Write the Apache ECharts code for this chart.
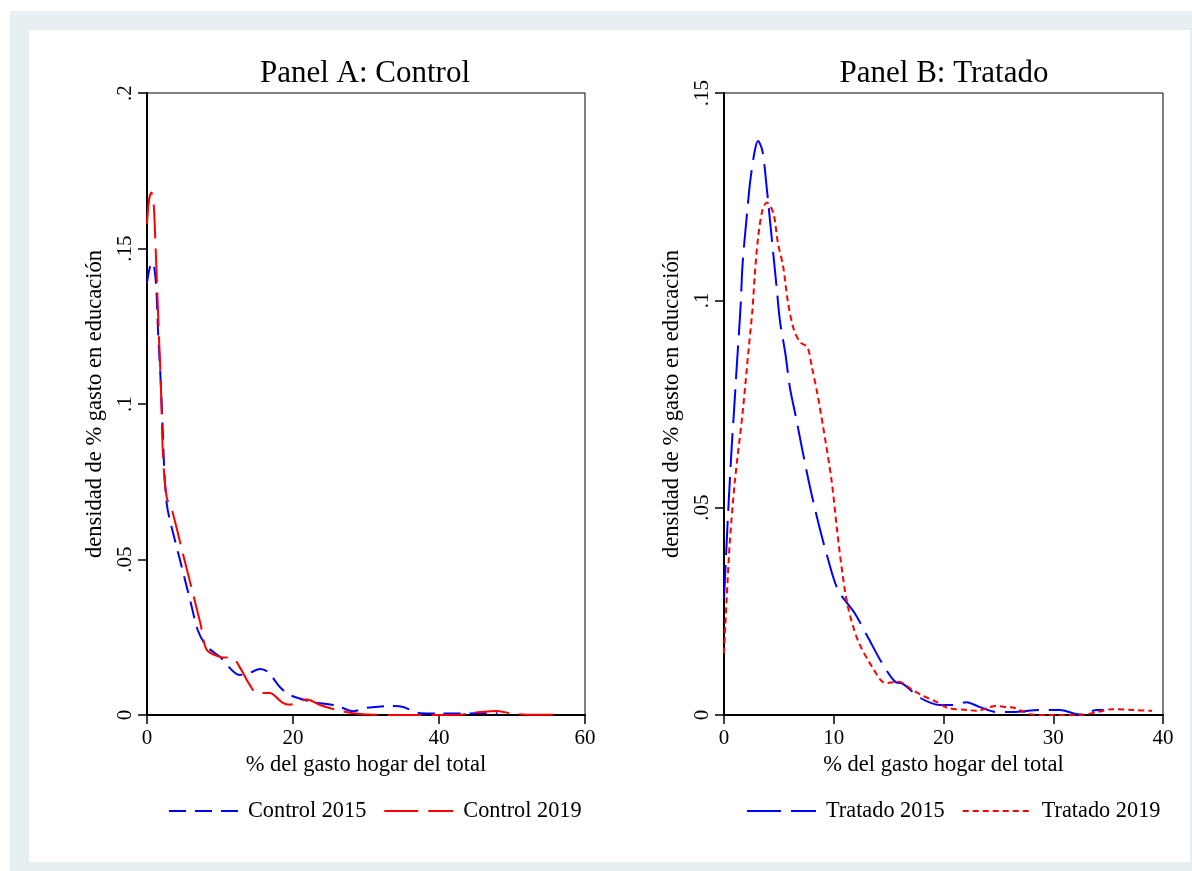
<!DOCTYPE html>
<html>
<head>
<meta charset="utf-8">
<script src="https://cdn.jsdelivr.net/npm/echarts@6/dist/echarts.min.js"></script>
<style>
html,body{margin:0;padding:0;background:#fff;}
#chart{width:1192px;height:871px;}
</style>
</head>
<body>
<div id="chart"></div>
<script>
// ---- Data ----
const panelTitles = ['Panel A: Control', 'Panel B: Tratado'];
const yAxisTitle = 'densidad de % gasto en educación';
const xAxisTitle = '% del gasto hogar del total';
const seriesNamesA = ['Control 2015', 'Control 2019'];
const seriesNamesB = ['Tratado 2015', 'Tratado 2019'];

const control2015 = [
  [0,0.139],[0.4,0.144],[0.8,0.1455],[1.1,0.142],[1.3,0.136],[1.5,0.124],[1.8,0.111],
  [2.1,0.095],[2.4,0.077],[2.7,0.068],[3.1,0.063],[4.5,0.050],[5.9,0.037],[7.0,0.027],
  [8.2,0.022],[10,0.0187],[12.7,0.0129],[14,0.0135],[15.5,0.0148],[16.6,0.0138],
  [18.2,0.009],[19.6,0.0064],[22.7,0.0042],[26,0.003],[28.2,0.0012],[30.1,0.0023],
  [33.7,0.0029],[35.1,0.0026],[37.4,0.0006],[40,0.0005],[43,0.0005],[48,0.0006]
];
const control2019 = [
  [0,0.158],[0.3,0.166],[0.6,0.168],[0.9,0.1646],[1.1,0.155],[1.3,0.143],[1.6,0.124],
  [1.9,0.106],[2.2,0.083],[2.7,0.070],[3.4,0.066],[4.8,0.053],[7.3,0.0296],[8.2,0.0209],
  [10,0.0187],[11.8,0.0183],[12.7,0.0154],[14.1,0.0096],[15,0.0071],[16.8,0.0071],
  [18.6,0.0039],[19.6,0.0033],[20.5,0.0042],[21.9,0.005],[23.7,0.0032],[26,0.0016],
  [28.2,0.0006],[31,0.0001],[36,0.0],[43,0.0001],[44.2,0.0006],[47.7,0.0013],
  [50,0.0005],[52,0.0001],[57,0.0001]
];
const tratado2015 = [
  [0,0.028],[0.4,0.050],[0.7,0.0646],[0.9,0.0728],[1.2,0.0856],[1.5,0.098],[1.7,0.109],
  [2.1,0.121],[2.4,0.129],[2.8,0.136],[3.1,0.1384],[3.5,0.136],[3.9,0.127],[4.2,0.119],
  [4.5,0.111],[4.8,0.103],[5.1,0.095],[5.6,0.087],[6.0,0.079],[6.5,0.0725],[7.7,0.0566],
  [8.6,0.0463],[9.5,0.0374],[10.4,0.0301],[11.9,0.0246],[13.1,0.0188],[14.4,0.0125],
  [15.6,0.008],[16.3,0.0075],[17.9,0.0041],[19.7,0.0024],[20.9,0.0024],[22.1,0.0031],
  [23.3,0.0019],[24.9,0.0007],[26.3,0.0007],[28.8,0.0012],[30.6,0.0012],[32.4,0.0001],
  [34,0.0012],[34.6,0.0012]
];
const tratado2019 = [
  [0,0.0149],[0.5,0.0405],[1.0,0.0566],[1.7,0.073],[2.2,0.087],[2.6,0.098],[2.8,0.106],
  [3.1,0.115],[3.5,0.1217],[3.9,0.1236],[4.5,0.121],[4.9,0.114],[5.4,0.108],[5.8,0.100],
  [6.3,0.0935],[6.9,0.090],[7.6,0.0887],[8.0,0.084],[8.5,0.0776],[9.0,0.070],[9.8,0.0566],
  [10.3,0.0446],[10.8,0.034],[11.3,0.026],[12.2,0.018],[13.5,0.0116],[14.7,0.0077],
  [15.9,0.008],[17.2,0.006],[18.0,0.0048],[19.4,0.0031],[20.4,0.0017],[22.2,0.0012],
  [23,0.001],[24.2,0.0019],[24.7,0.0022],[25.8,0.0019],[26.5,0.0017],[27.9,0.0002],
  [29.4,0.0],[32.4,0.0],[34,0.0007],[35.4,0.0014],[37.3,0.0012],[39,0.001]
];

const xTicksA = {min:0, max:60, interval:20};
const xTicksB = {min:0, max:40, interval:10};
const yTicksA = {min:0, max:0.2, interval:0.05};
const yTicksB = {min:0, max:0.15, interval:0.05};

// ---- Styling ----
const FONT = '"Liberation Serif", "DejaVu Serif", serif';
const BLUE = '#0000ff', RED = '#ff0000';
const fmtY = v => { const r = Math.round(v*100)/100; return r === 0 ? '0' : String(r).replace(/^0/, ''); };

function xAxis(idx, t) {
  return {
    type:'value', gridIndex:idx, min:t.min, max:t.max, interval:t.interval,
    name:xAxisTitle, nameLocation:'middle', nameGap:37,
    nameTextStyle:{fontFamily:FONT, fontSize:22.5, color:'#000'},
    axisLine:{show:true, onZero:false, lineStyle:{color:'#000', width:2}},
    axisTick:{show:true, length:9, lineStyle:{color:'#000', width:1.5}},
    axisLabel:{fontFamily:FONT, fontSize:21, color:'#000', margin:13},
    splitLine:{show:false}
  };
}
function yAxis(idx, t) {
  return {
    type:'value', gridIndex:idx, min:t.min, max:t.max, interval:t.interval,
    name:yAxisTitle, nameLocation:'middle', nameGap:40, nameRotate:90,
    nameTextStyle:{fontFamily:FONT, fontSize:22.5, color:'#000'},
    axisLine:{show:true, onZero:false, lineStyle:{color:'#000', width:2}},
    axisTick:{show:true, length:9, lineStyle:{color:'#000', width:1.5}},
    axisLabel:{fontFamily:FONT, fontSize:21, color:'#000', rotate:90, margin:11, formatter:fmtY},
    splitLine:{show:false}
  };
}
function line(name, data, xi, color, dash) {
  return {
    name, type:'line', xAxisIndex:xi, yAxisIndex:xi, data,
    symbol:'none', smooth:0.3, silent:true, animation:false,
    lineStyle:{color, width:2, type:dash}, itemStyle:{color}
  };
}
function legend(names, left) {
  return {
    data:names, left, top:795, orient:'horizontal',
    itemWidth:69, itemHeight:22, itemGap:17,
    itemStyle:{opacity:0},
    textStyle:{fontFamily:FONT, fontSize:22.3, color:'#000', padding:[0,0,0,5]},
    selectedMode:false
  };
}

const chart = echarts.init(document.getElementById('chart'), null, {renderer:'canvas'});
chart.setOption({
  backgroundColor:'#ffffff',
  animation:false,
  graphic:[
    {type:'rect', z:-10, shape:{x:10, y:11, width:1182, height:860}, style:{fill:'#e8eff2'}},
    {type:'rect', z:-9, shape:{x:29, y:30, width:1161, height:832}, style:{fill:'#ffffff'}}
  ],
  title:[
    {text:panelTitles[0], left:360, top:53, textAlign:'center',
     textStyle:{fontFamily:FONT, fontSize:31, fontWeight:'normal', color:'#000'}},
    {text:panelTitles[1], left:939, top:53, textAlign:'center',
     textStyle:{fontFamily:FONT, fontSize:31, fontWeight:'normal', color:'#000'}}
  ],
  grid:[
    {left:147, top:93, width:438, height:622, show:true, borderColor:'#000', borderWidth:1, backgroundColor:'transparent'},
    {left:724, top:93, width:439, height:622, show:true, borderColor:'#000', borderWidth:1, backgroundColor:'transparent'}
  ],
  xAxis:[xAxis(0, xTicksA), xAxis(1, xTicksB)],
  yAxis:[yAxis(0, yTicksA), yAxis(1, yTicksB)],
  legend:[legend(seriesNamesA, 163), legend(seriesNamesB, 741)],
  series:[
    line(seriesNamesA[0], control2015, 0, BLUE, [17,9]),
    line(seriesNamesA[1], control2019, 0, RED, [34,10]),
    line(seriesNamesB[0], tratado2015, 1, BLUE, [34,10]),
    line(seriesNamesB[1], tratado2019, 1, RED, [6,4])
  ]
});
</script>
</body>
</html>
